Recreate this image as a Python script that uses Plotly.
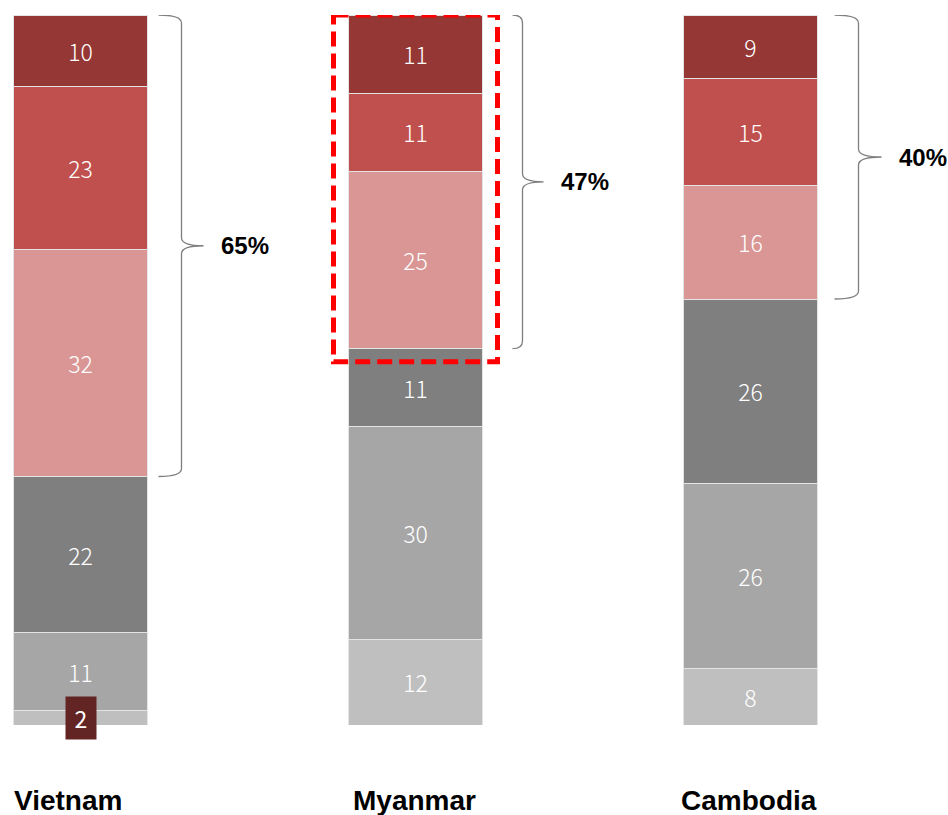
import plotly.graph_objects as go

# ---------------- data ----------------
countries = ["Vietnam", "Myanmar", "Cambodia"]
# stacked segments, bottom to top (percent)
seg_lightgrey = [2, 12, 8]
seg_grey = [11, 30, 26]
seg_darkgrey = [22, 11, 26]
seg_pink = [32, 25, 16]
seg_red = [23, 11, 15]
seg_darkred = [10, 11, 9]
segments = [seg_lightgrey, seg_grey, seg_darkgrey, seg_pink, seg_red, seg_darkred]
top_group = [seg_pink, seg_red, seg_darkred]  # bracketed share
highlight_index = 1  # Myanmar

# ---------------- style ----------------
colors = ["#BFBFBF", "#A6A6A6", "#7F7F7F", "#D99694", "#C0504D", "#953735"]
W, H = 948, 815
M_T, M_B = 15, 90
PX_PER_X = 335.0
X0_PX = 80.5
PX_PER_Y = (H - M_T - M_B) / 100.0
BAR_W = 0.4

def px_x(px):
    return px / PX_PER_X

def px_y(px):
    return px / PX_PER_Y

fig = go.Figure()
xs = list(range(len(countries)))
for k, (vals, col) in enumerate(zip(segments, colors)):
    texts = [str(v) if v >= 5 else "" for v in vals]
    fig.add_trace(go.Bar(
        x=xs, y=vals, width=BAR_W,
        marker=dict(color=col, line=dict(color="#E4E4E4", width=1)),
        text=texts, textposition="inside", insidetextanchor="middle",
        textangle=0, constraintext="none",
        textfont=dict(color="white", size=23, family="Noto Sans CJK JP, DejaVu Sans", weight=300),
        hoverinfo="skip", showlegend=False,
    ))

annotations = []
shapes = []

# small-value labels shown in a dark box
for i, v in enumerate(seg_lightgrey):
    if v < 5:
        annotations.append(dict(
            x=xs[i], y=v / 2, xref="x", yref="y", text=str(v), showarrow=False,
            font=dict(color="white", size=23, family="Noto Sans CJK JP, DejaVu Sans"),
            bgcolor="#632523", width=30, height=42, borderpad=0,
        ))

# braces and percentages
brace_offsets = [(11, 34, 56), (30, 40, 61), (17, 41, 64)]  # px from bar right edge
r = 8
for i in range(len(countries)):
    total = sum(s[i] for s in segments)
    share = sum(s[i] for s in top_group)
    yt, yb = total, total - share
    ym = (yt + yb) / 2
    edge = xs[i] + BAR_W / 2
    o0, o1, o2 = brace_offsets[i]
    x0, x1, x2 = edge + px_x(o0), edge + px_x(o1), edge + px_x(o2)
    ry = px_y(r)
    path = (f"M {x0},{yt} Q {x1},{yt} {x1},{yt-ry} L {x1},{ym+ry} "
            f"Q {x1},{ym} {x2},{ym} Q {x1},{ym} {x1},{ym-ry} "
            f"L {x1},{yb+ry} Q {x1},{yb} {x0},{yb}")
    shapes.append(dict(type="path", path=path, xref="x", yref="y",
                       line=dict(color="#7F7F7F", width=1.3)))
    annotations.append(dict(
        x=x2 + px_x(15), y=ym, xref="x", yref="y", text=f"<b>{share}%</b>",
        showarrow=False, xanchor="left", yanchor="middle",
        font=dict(color="black", size=24, family="Liberation Sans, Arial"),
    ))

# red dashed highlight box
hi = highlight_index
tot_h = sum(s[hi] for s in segments)
share_h = sum(s[hi] for s in top_group)
shapes.append(dict(
    type="rect", xref="x", yref="y",
    x0=xs[hi] - BAR_W / 2 - px_x(15), x1=xs[hi] + BAR_W / 2 + px_x(15),
    y0=tot_h, y1=tot_h - share_h - px_y(13),
    line=dict(color="#FF0000", width=5, dash="15px,7px"),
))

# category labels
label_shift = [-13, -1, -2]
for i, c in enumerate(countries):
    annotations.append(dict(
        x=xs[i], y=0, xref="x", yref="y", yshift=-75, xshift=label_shift[i],
        text=f"<b>{c}</b>", showarrow=False, yanchor="middle",
        font=dict(color="black", size=28, family="Liberation Sans, Arial"),
    ))

x_lo = -X0_PX / PX_PER_X
fig.update_layout(
    width=W, height=H, barmode="stack",
    margin=dict(l=0, r=0, t=M_T, b=M_B),
    paper_bgcolor="white", plot_bgcolor="white",
    xaxis=dict(range=[x_lo, x_lo + W / PX_PER_X], visible=False, fixedrange=True),
    yaxis=dict(range=[0, 100], visible=False, fixedrange=True),
    shapes=shapes, annotations=annotations,
)
fig.write_html("out.html", config={"displayModeBar": False})
